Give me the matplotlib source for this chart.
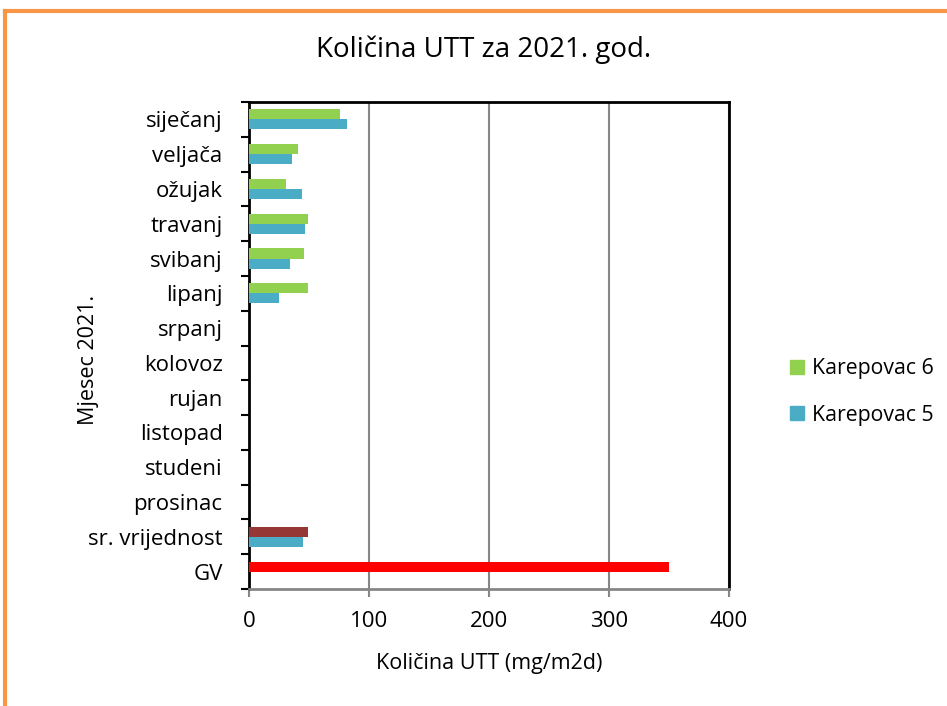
import matplotlib.pyplot as plt
import numpy as np
from matplotlib.lines import Line2D

plt.rcParams['font.family'] = ['Open Sans', 'DejaVu Sans']

# data
months = ['siječanj', 'veljača', 'ožujak', 'travanj', 'svibanj', 'lipanj',
          'srpanj', 'kolovoz', 'rujan', 'listopad', 'studeni', 'prosinac',
          'sr. vrijednost', 'GV']
karepovac6 = [76, 41, 31, 49, 45.5, 49, 0, 0, 0, 0, 0, 0, 49, 350]
karepovac5 = [82, 36, 44, 47, 34, 25, 0, 0, 0, 0, 0, 0, 45, 0]

green = '#92D050'
blue = '#4BACC6'
colors6 = [green] * 12 + ['#953735', '#FF0000']

fig = plt.figure(figsize=(9.47, 7.06), dpi=100)
ax = fig.add_axes([249/947, 1 - 589/706, 480/947, 487/706])

y = np.arange(len(months))
h = 0.29
ax.barh(y - h/2, karepovac6, height=h, color=colors6, zorder=3)
ax.barh(y + h/2, karepovac5, height=h, color=blue, zorder=3)

ax.set_ylim(len(months) - 0.5, -0.5)
ax.set_xlim(0, 400)
ax.set_xticks([0, 100, 200, 300, 400])
ax.set_yticks(y)
ax.set_yticklabels(months, fontsize=16)
ax.set_yticks(np.arange(len(months) + 1) - 0.5, minor=True)
ax.tick_params(axis='y', which='major', length=0, pad=19)
ax.tick_params(axis='y', which='minor', length=6, width=1.5, color='black')
ax.tick_params(axis='x', length=6, width=1.5, color='#868686', labelsize=16, pad=10)
ax.xaxis.grid(True, color='#868686', linewidth=1.5, zorder=0)

ax.spines['left'].set_color('black')
ax.spines['left'].set_linewidth(2)
ax.spines['top'].set_color('black')
ax.spines['top'].set_linewidth(2)
ax.spines['right'].set_color('black')
ax.spines['right'].set_linewidth(2)
ax.spines['bottom'].set_color('#868686')
ax.spines['bottom'].set_linewidth(2)

ax.set_xlabel('Količina UTT (mg/m2d)', fontsize=15.5, labelpad=15)
ax.set_ylabel('Mjesec 2021.', fontsize=15.5, va='center')
ax.yaxis.set_label_coords(-0.335, 0.47)
fig.text(484/947, 1 - 50/706, 'Količina UTT za 2021. god.', fontsize=20,
         ha='center', va='center')

handles = [plt.Rectangle((0, 0), 1, 1, color=green),
           plt.Rectangle((0, 0), 1, 1, color=blue)]
fig.legend(handles, ['Karepovac 6', 'Karepovac 5'], loc='center left',
           bbox_to_anchor=(771/947, 1 - 392/706), frameon=False, fontsize=15.3,
           handlelength=0.65, handleheight=0.65, labelspacing=1.2, handletextpad=0.4)

# orange frame (top and left edges visible)
fig.add_artist(Line2D([5/947, 1], [1 - 11/706, 1 - 11/706], color='#F79646',
                      linewidth=3, transform=fig.transFigure))
fig.add_artist(Line2D([5/947, 5/947], [0, 1 - 11/706], color='#F79646',
                      linewidth=3, transform=fig.transFigure))

fig.savefig('out.png', dpi=100)
